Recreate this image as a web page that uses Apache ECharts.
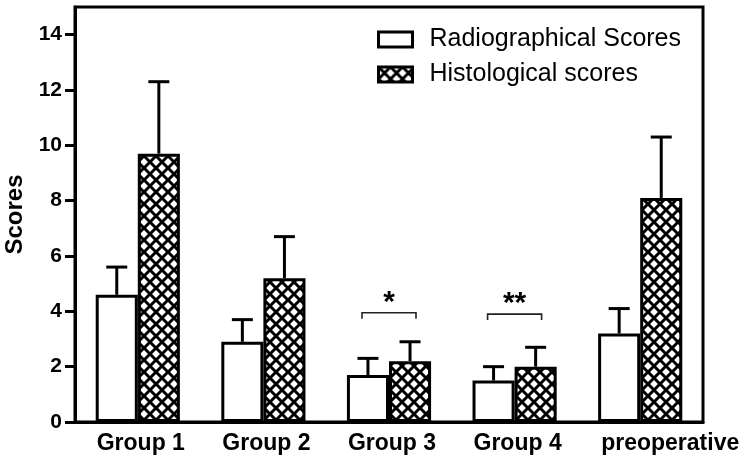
<!DOCTYPE html>
<html><head><meta charset="utf-8">
<script src="https://cdn.jsdelivr.net/npm/echarts@6/dist/echarts.min.js"></script>
<style>html,body{margin:0;padding:0;background:#fff}#c{width:749px;height:465px}</style>
</head><body><div id="c"></div>
<script>
const categories = ['Group 1', 'Group 2', 'Group 3', 'Group 4', 'preoperative'];
const radioMean = [4.6, 2.9, 1.7, 1.5, 3.2];
const radioUpper = [5.6, 3.7, 2.3, 2.0, 4.1];
const histoMean = [9.7, 5.2, 2.2, 2.0, 8.1];
const histoUpper = [12.3, 6.7, 2.9, 2.7, 10.3];
const yTicks = [0, 2, 4, 6, 8, 10, 12, 14];
const sigCategories = [2, 3];
const sigLevels = [3.95, 3.9];
const sigLabels = ['*', '**'];

const FONT = '"Liberation Sans", Arial, Helvetica, sans-serif';
const CAT_GAP = 0.33;

function hatch() {
  const s = 12;
  const c = document.createElement('canvas');
  c.width = s; c.height = s;
  const g = c.getContext('2d');
  g.fillStyle = '#fff'; g.fillRect(0, 0, s, s);
  g.strokeStyle = '#000'; g.lineWidth = 3;
  for (const o of [-s, 0, s]) {
    g.beginPath(); g.moveTo(o - 2, -2); g.lineTo(o + s + 2, s + 2); g.stroke();
    g.beginPath(); g.moveTo(o + s + 2, -2); g.lineTo(o - 2, s + 2); g.stroke();
  }
  return c;
}
const hatchPattern = { image: hatch(), repeat: 'repeat' };

function errRender(side) {
  return function (params, api) {
    const cat = api.value(0);
    const base = api.coord([cat, api.value(1)]);
    const top = api.coord([cat, api.value(2)]);
    const bw = api.size([1, 0])[0] * (1 - CAT_GAP) / 2;
    const x = base[0] + side * bw / 2;
    const cap = 10.5;
    return {
      type: 'group', children: [
        { type: 'line', shape: { x1: x, y1: base[1], x2: x, y2: top[1] }, style: { stroke: '#000', lineWidth: 3 } },
        { type: 'line', shape: { x1: x - cap, y1: top[1], x2: x + cap, y2: top[1] }, style: { stroke: '#000', lineWidth: 3 } }
      ]
    };
  };
}

function sigRender(params, api) {
  const cat = api.value(0);
  const p = api.coord([cat, api.value(1)]);
  const hw = api.size([1, 0])[0] * 0.215;
  const label = sigLabels[params.dataIndex];
  return {
    type: 'group', children: [
      { type: 'polyline', shape: { points: [[p[0] - hw, p[1] + 6], [p[0] - hw, p[1]], [p[0] + hw, p[1]], [p[0] + hw, p[1] + 6]] },
        style: { stroke: '#222', fill: null, lineWidth: 1.6 } },
      { type: 'text', style: { text: label, x: p[0], y: p[1] + 5, align: 'center', verticalAlign: 'bottom',
        font: 'bold 30px ' + FONT, fill: '#000' } }
    ]
  };
}

const chart = echarts.init(document.getElementById('c'), null, { renderer: 'canvas' });
chart.setOption({
  animation: false,
  backgroundColor: '#fff',
  grid: { left: 75, right: 46, top: 7, bottom: 43, show: true, borderColor: '#000', borderWidth: 3,
    backgroundColor: 'transparent', outerBoundsMode: 'none', containLabel: false },
  legend: {
    orient: 'vertical', left: 372, top: 22, itemWidth: 34, itemHeight: 15, itemGap: 10,
    data: ['Radiographical Scores', 'Histological scores'],
    textStyle: { fontSize: 25, color: '#000', fontFamily: FONT, padding: [0, 0, 0, 12] },
    itemStyle: { borderColor: '#000', borderWidth: 3 },
    icon: 'rect'
  },
  xAxis: {
    type: 'category', data: categories,
    axisLine: { lineStyle: { color: '#000', width: 3 } },
    axisTick: { show: false },
    axisLabel: {
      fontSize: 23, fontWeight: 'bold', color: '#000', fontFamily: FONT, margin: 10, interval: 0,
      formatter: function (v) { return v === 'preoperative' ? '{shift|' + v + '}' : '{n|' + v + '}'; },
      rich: {
        n: { fontSize: 23, fontWeight: 'bold', color: '#000', fontFamily: FONT, padding: [0, 0, 0, 6] },
        shift: { fontSize: 23, fontWeight: 'bold', color: '#000', fontFamily: FONT, padding: [0, 0, 0, 60] }
      }
    },
    splitLine: { show: false }
  },
  yAxis: {
    type: 'value', min: 0, max: 15, interval: 1,
    name: 'Scores', nameLocation: 'middle', nameGap: 48,
    nameTextStyle: { fontSize: 24, fontWeight: 'bold', color: '#000', fontFamily: FONT },
    axisLine: { show: true, lineStyle: { color: '#000', width: 3 } },
    axisTick: { show: true, length: 10, lineStyle: { color: '#000', width: 3 }, customValues: yTicks },
    axisLabel: { fontSize: 21, fontWeight: 'bold', color: '#000', fontFamily: FONT, margin: 13, customValues: yTicks },
    splitLine: { show: false }
  },
  series: [
    { type: 'bar', name: 'Radiographical Scores', data: radioMean, barGap: '0%', barCategoryGap: (CAT_GAP * 100) + '%',
      itemStyle: { color: '#fff', borderColor: '#000', borderWidth: 3 }, z: 2 },
    { type: 'bar', name: 'Histological scores', data: histoMean,
      itemStyle: { color: hatchPattern, borderColor: '#000', borderWidth: 3 }, z: 2 },
    { type: 'custom', name: 'errR', renderItem: errRender(-1), z: 3,
      data: categories.map((c, i) => [i, radioMean[i], radioUpper[i]]) },
    { type: 'custom', name: 'errH', renderItem: errRender(1), z: 3,
      data: categories.map((c, i) => [i, histoMean[i], histoUpper[i]]) },
    { type: 'custom', name: 'sig', renderItem: sigRender, z: 3,
      data: sigCategories.map((c, i) => [c, sigLevels[i]]) }
  ]
});
</script>
</body></html>
